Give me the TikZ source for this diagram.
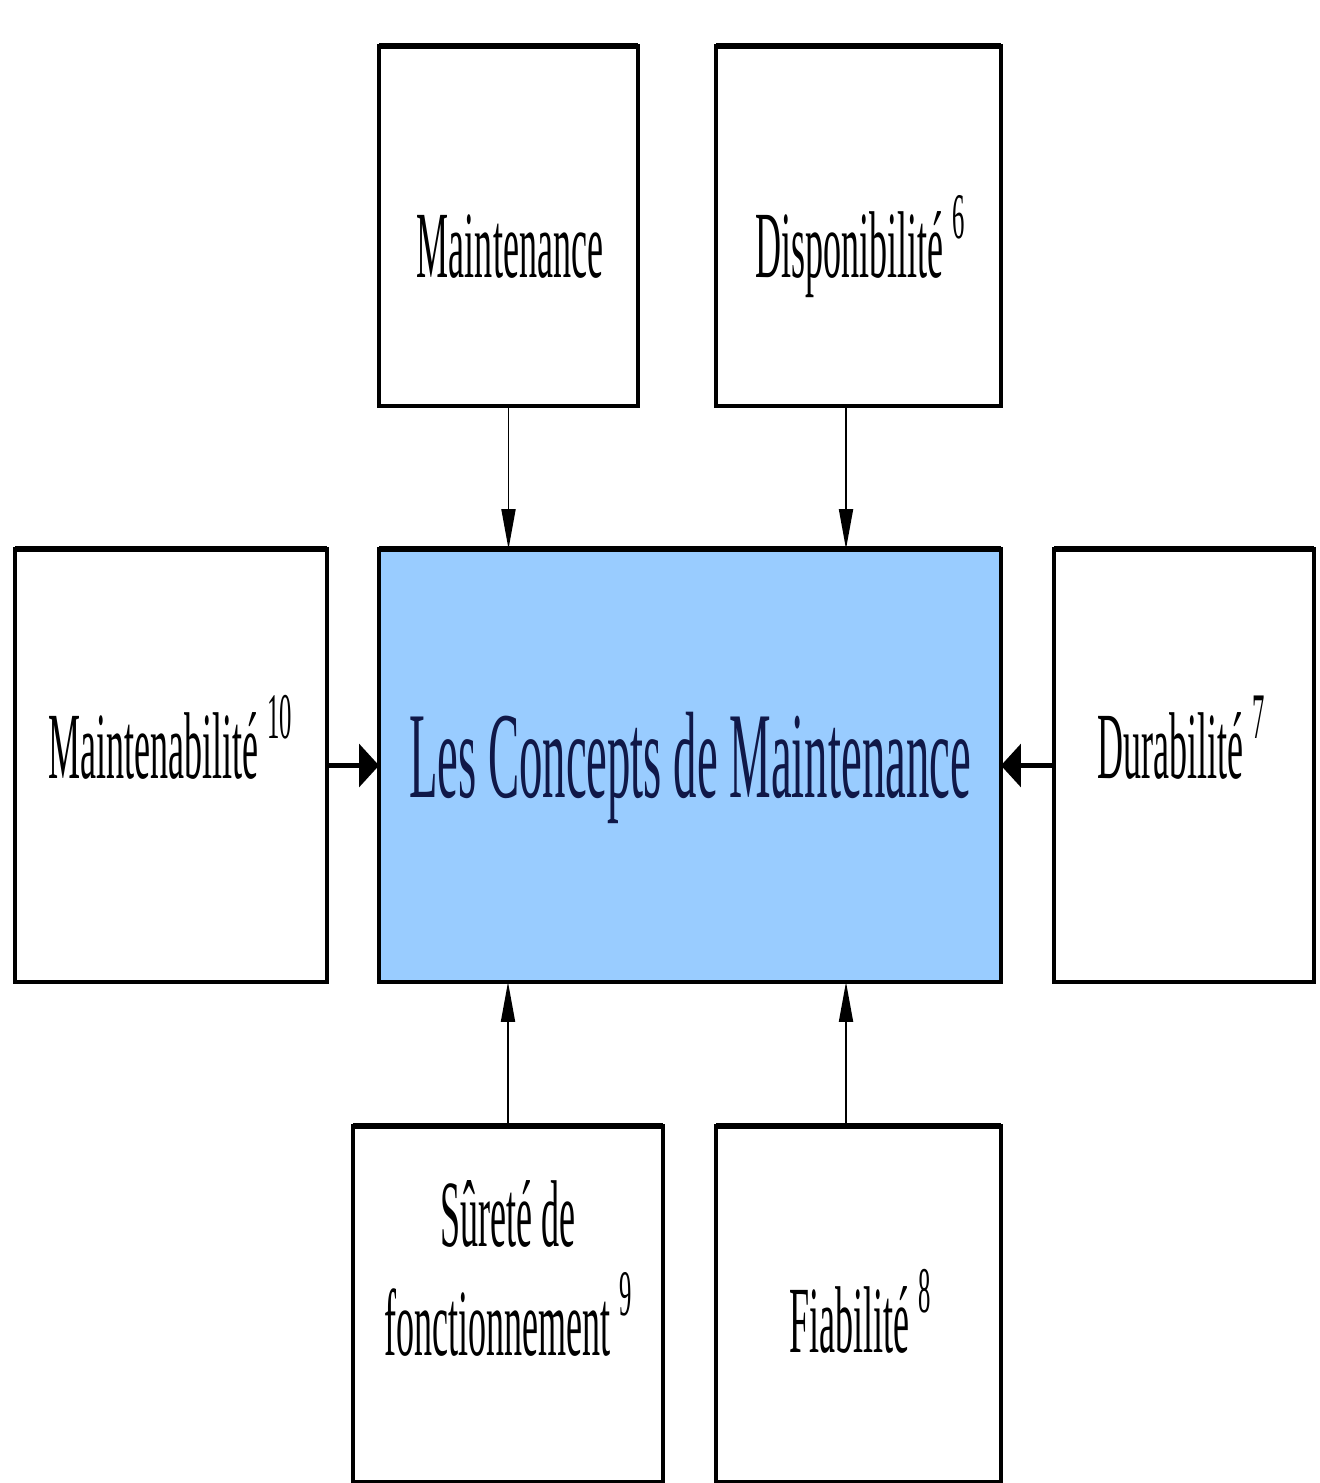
\documentclass[tikz,border=0pt]{standalone}
\usepackage{fontspec}
\newfontfamily\condfont[FakeStretch=0.38]{Liberation Serif}
\usetikzlibrary{arrows.meta}
\definecolor{conceptblue}{HTML}{99CCFF}
\definecolor{conceptnavy}{HTML}{101848}
\newcommand{\mcsup}[1]{\raisebox{0.42em}{\fontsize{37}{37}\selectfont #1}}

\begin{document}
\begin{tikzpicture}[x=0.02cm,y=-0.02cm]
            \tikzset{
            mc box/.style={draw,line width=1.8pt,inner sep=0,outer sep=0},
            mc text/.style={anchor=base,inner sep=0,align=center,font=\condfont\fontsize{54}{62}\selectfont},
            mc arrow/.style={-{Triangle[length=0.8cm,width=0.28cm]},line width=1.1pt},
            mc thick arrow/.style={-{Triangle[length=0.4cm,width=0.85cm]},line width=3pt}
            }
            \useasboundingbox (0,0) rectangle (1319,1483);

            % boxes
            \node[mc box,minimum width=5.18cm,minimum height=7.2cm] (mnt) at (508.5,226) {};
            \node[mc box,minimum width=5.7cm,minimum height=7.2cm] (dsp) at (858.5,226) {};
            \node[mc box,minimum width=6.24cm,minimum height=8.66cm] (mtb) at (171,765.5) {};
            \node[mc box,fill=conceptblue,minimum width=12.44cm,minimum height=8.66cm] (ctr) at (690,765.5) {};
            \node[mc box,minimum width=5.2cm,minimum height=8.66cm] (dur) at (1184,765.5) {};
            \node[mc box,minimum width=6.2cm,minimum height=7.12cm] (sur) at (508,1304) {};
            \node[mc box,minimum width=5.7cm,minimum height=7.12cm] (fia) at (858.5,1304) {};

            % heavier top edges
            \foreach \b in {mnt,dsp,mtb,ctr,dur,sur,fia}
                \draw[line width=3pt] (\b.north west) -- (\b.north east);

            % texts
            \node[mc text] (mnt-t) at (510,278) {Maintenance};
            \node[mc text] (dsp-t) at (860,278) {Disponibilité \mcsup{6}};
            \node[mc text] (mtb-t) at (170,778) {Maintenabilité \mcsup{10}};
            \node[mc text,text=conceptnavy,font=\condfont\fontsize{70}{84}\selectfont] (ctr-t) at (690,797) {Les Concepts de Maintenance};
            \node[mc text] (dur-t) at (1181,778) {Durabilité \mcsup{7}};
            \node[mc text,anchor=center] (sur-t) at (508,1268) {Sûreté de\\fonctionnement \mcsup{9}};
            \node[mc text] (fia-t) at (860,1352) {Fiabilité \mcsup{8}};

            % arrows
            \draw[mc arrow] (mnt.south) -- (mnt.south |- ctr.north);
            \draw[mc arrow] ([xshift=-0.25cm]dsp.south) -- ([xshift=-0.25cm]dsp.south |- ctr.north);
            \draw[mc arrow] (sur.north) -- (sur.north |- ctr.south);
            \draw[mc arrow] ([xshift=-0.25cm]fia.north) -- ([xshift=-0.25cm]fia.north |- ctr.south);
            \draw[mc thick arrow] (mtb.east) -- (ctr.west);
            \draw[mc thick arrow] (dur.west) -- (ctr.east);
\end{tikzpicture}
\end{document}
